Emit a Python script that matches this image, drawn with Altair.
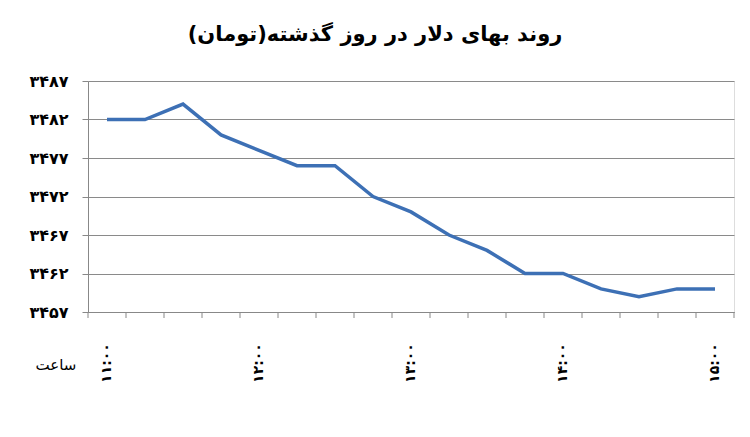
import altair as alt
import pandas as pd

# data
positions = list(range(17))
prices = [3482, 3482, 3484, 3480, 3478, 3476, 3476, 3472, 3470, 3467, 3465, 3462, 3462, 3460, 3459, 3460, 3460]

hour_positions = [0, 4, 8, 12, 16]
hour_labels = ["۱۱:۰۰", "۱۲:۰۰", "۱۳:۰۰", "۱۴:۰۰", "۱۵:۰۰"]

y_ticks = [3457, 3462, 3467, 3472, 3477, 3482, 3487]
y_tick_labels = ["۳۴۵۷", "۳۴۶۲", "۳۴۶۷", "۳۴۷۲", "۳۴۷۷", "۳۴۸۲", "۳۴۸۷"]

title_text = "روند بهای دلار در روز گذشته(تومان)"
x_axis_word = "ساعت"

df = pd.DataFrame({"pos": positions, "price": prices})
hours = pd.DataFrame({"pos": hour_positions, "label": hour_labels})
bounds = pd.DataFrame({"b": [p - 0.5 for p in positions] + [positions[-1] + 0.5]})

expr = "''"
for v, l in zip(y_ticks, y_tick_labels):
    expr = f"datum.value == {v} ? '{l}' : ({expr})"

xscale = alt.Scale(domain=[-0.5, 16.5], nice=False, zero=False)
yscale = alt.Scale(domain=[3457, 3487], nice=False, zero=False)

line = alt.Chart(df).mark_line(color="#3D70B5", strokeWidth=3.5, strokeJoin="miter").encode(
    x=alt.X("pos:Q", scale=xscale,
            axis=alt.Axis(values=[-0.5], labels=False, ticks=False, title=None, grid=False,
                          domainColor="#888888")),
    y=alt.Y("price:Q", scale=yscale,
            axis=alt.Axis(values=y_ticks, labelExpr=expr, title=None, grid=True,
                          gridColor="#8a8a8a", gridWidth=1.2, tickSize=6,
                          domainColor="#888888", tickColor="#888888",
                          labelFont="DejaVu Sans", labelFontWeight="bold",
                          labelFontSize=16, labelColor="#000000", labelPadding=14)),
)

xticks = alt.Chart(bounds).mark_rule(color="#888888", strokeWidth=1).encode(
    x=alt.X("b:Q", scale=xscale),
    y=alt.value(231),
    y2=alt.value(237),
)

hour_text = alt.Chart(hours).mark_text(
    angle=270, align="center", baseline="middle", font="DejaVu Sans",
    fontWeight="bold", fontSize=14, color="#000000", dx=-2
).encode(
    x=alt.X("pos:Q", scale=xscale),
    y=alt.value(280),
    text="label:N",
)

word = alt.Chart(hours).mark_text(
    align="center", baseline="middle", font="DejaVu Sans", fontSize=15, color="#000000"
).encode(
    x=alt.value(-32), y=alt.value(284), text=alt.value(x_axis_word)
).transform_filter("datum.pos == 0")

chart = alt.layer(line, xticks, hour_text, word).properties(
    width=646, height=231,
    title=alt.Title(title_text, font="DejaVu Sans", fontSize=21, fontWeight="bold",
                    color="#000000", anchor="middle", dx=-36, offset=28),
    autosize=alt.AutoSizeParams(type="none"),
    padding={"left": 80, "top": 73, "right": 8, "bottom": 100},
).configure_view(stroke=None).configure(background="white")

chart.save("out.html", embed_options={"renderer": "svg", "actions": False})
